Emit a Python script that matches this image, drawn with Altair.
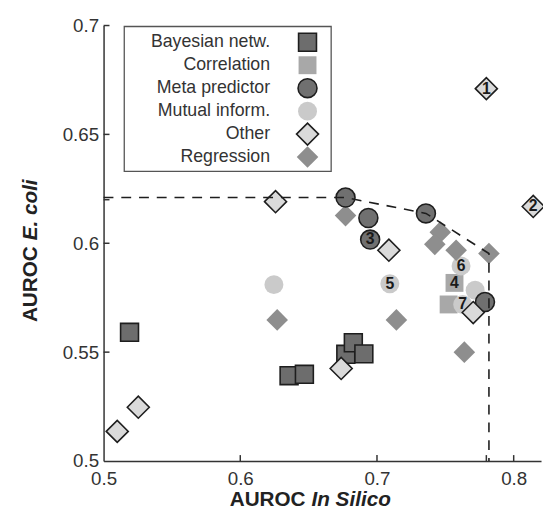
import altair as alt
import pandas as pd

methods = ["Bayesian netw.", "Correlation", "Meta predictor", "Mutual inform.", "Other", "Regression"]

bayes_x = [0.519, 0.6357, 0.6469, 0.6772, 0.6827, 0.6904]
bayes_y = [0.5591, 0.5392, 0.5398, 0.5490, 0.5543, 0.5492]
bayes_lab = ["", "", "", "", "", ""]

corr_x = [0.7524, 0.7567]
corr_y = [0.5719, 0.5818]
corr_lab = ["", "4"]

meta_x = [0.677, 0.6937, 0.695, 0.7358, 0.779]
meta_y = [0.621, 0.6116, 0.6017, 0.6137, 0.573]
meta_lab = ["", "", "3", "", ""]

mutual_x = [0.6246, 0.7094, 0.7615, 0.7718, 0.7627]
mutual_y = [0.5810, 0.5814, 0.5896, 0.5784, 0.5719]
mutual_lab = ["", "5", "6", "", "7"]

other_x = [0.510, 0.5254, 0.6258, 0.6738, 0.7087, 0.7704, 0.780, 0.8143]
other_y = [0.5136, 0.5247, 0.6191, 0.5425, 0.5968, 0.5682, 0.671, 0.6169]
other_lab = ["", "", "", "", "", "", "1", "2"]

regr_x = [0.627, 0.677, 0.7142, 0.7463, 0.7423, 0.7579, 0.7819, 0.7639]
regr_y = [0.5648, 0.6127, 0.5648, 0.6051, 0.5995, 0.5968, 0.5953, 0.5500]
regr_lab = ["", "", "", "", "", "", "", ""]

front_x = [0.5, 0.677, 0.7358, 0.7819, 0.7819]
front_y = [0.621, 0.621, 0.6137, 0.5953, 0.5]

x_label_values = [0.5, 0.6, 0.7, 0.8]
y_label_values = [0.5, 0.55, 0.6, 0.65, 0.7]
x_tick_values = [0.6, 0.7, 0.78, 0.8]
y_tick_values = [0.55, 0.6, 0.62, 0.65, 0.7]

FONT = "Liberation Sans"
W, H = 444, 442


def frame(name, xs, ys, labs):
    return pd.DataFrame({"method": name, "x": xs, "y": ys, "label": labs})


# drawing order (later on top)
pts = pd.concat([
    frame("Correlation", corr_x, corr_y, corr_lab),
    frame("Mutual inform.", mutual_x, mutual_y, mutual_lab),
    frame("Regression", regr_x, regr_y, regr_lab),
    frame("Bayesian netw.", bayes_x, bayes_y, bayes_lab),
    frame("Meta predictor", meta_x, meta_y, meta_lab),
    frame("Other", other_x, other_y, other_lab),
], ignore_index=True)

front = pd.DataFrame({"x": front_x, "y": front_y, "o": list(range(len(front_x)))})

xscale = alt.Scale(domain=[0.5, 0.82], nice=False, zero=False)
yscale = alt.Scale(domain=[0.5, 0.7], nice=False, zero=False)

shape_scale = alt.Scale(domain=methods, range=["square", "square", "circle", "circle", "diamond", "diamond"])
fill_scale = alt.Scale(domain=methods, range=["#6d6d6d", "#a8a8a8", "#707070", "#cacaca", "#dadada", "#8e8e8e"])
size_scale = alt.Scale(type="ordinal", domain=methods, range=[330, 330, 370, 370, 500, 480])
sw_scale = alt.Scale(type="ordinal", domain=methods, range=[1.6, 0, 1.6, 0, 1.6, 0])

x_axis = alt.Axis(values=x_label_values, format="~g", title=None, grid=False, ticks=False, tickSize=0,
                  labelFont=FONT, labelFontSize=19, labelColor="#333", labelPadding=9,
                  labelFlush=False, labelOverlap=False, domainColor="#333", domainWidth=1.5)
y_axis = alt.Axis(values=y_label_values, format="~g", title=None, grid=False, ticks=False, tickSize=0,
                  labelFont=FONT, labelFontSize=19, labelColor="#333", labelPadding=5,
                  labelFlush=False, labelOverlap=False, domainColor="#333", domainWidth=1.5)

base_points = alt.Chart(pts).mark_point(filled=True, stroke="#1e1e1e", opacity=1, fillOpacity=1, strokeOpacity=1).encode(
    x=alt.X("x:Q", scale=xscale, axis=x_axis),
    y=alt.Y("y:Q", scale=yscale, axis=y_axis),
    shape=alt.Shape("method:N", scale=shape_scale, legend=None),
    fill=alt.Fill("method:N", scale=fill_scale, legend=None),
    size=alt.Size("method:N", scale=size_scale, legend=None),
    strokeWidth=alt.StrokeWidth("method:N", scale=sw_scale, legend=None),
)

xt = alt.Chart(pd.DataFrame({"t": x_tick_values})).mark_rule(color="#333", strokeWidth=1.5).encode(
    x=alt.X("t:Q", scale=xscale), y=alt.value(H), y2=alt.value(H - 6))
yt = alt.Chart(pd.DataFrame({"t": y_tick_values})).mark_rule(color="#333", strokeWidth=1.5).encode(
    y=alt.Y("t:Q", scale=yscale), x=alt.value(0), x2=alt.value(6))

line = alt.Chart(front).mark_line(color="#1e1e1e", strokeWidth=1.6, strokeDash=[10, 8]).encode(
    x=alt.X("x:Q", scale=xscale), y=alt.Y("y:Q", scale=yscale), order="o:Q")

nums = alt.Chart(pts).transform_filter("datum.label != ''").mark_text(
    font=FONT, fontSize=16, fontWeight="bold", color="#1a1a1a", baseline="middle", align="center").encode(
    x=alt.X("x:Q", scale=xscale), y=alt.Y("y:Q", scale=yscale), text="label:N")

# legend
leg_df = pd.DataFrame({"method": methods})
leg_box = alt.Chart(pd.DataFrame({"a": [0]})).mark_rect(fill="white", stroke="#555", strokeWidth=1.3).encode(
    x=alt.value(21), x2=alt.value(231), y=alt.value(1), y2=alt.value(148))
leg_base = alt.Chart(leg_df).transform_window(idx="row_number()").transform_calculate(
    py="17 + 23.3 * (datum.idx - 1)")
leg_sym = leg_base.mark_point(filled=True, stroke="#1e1e1e", opacity=1, fillOpacity=1).encode(
    x=alt.value(207), y=alt.Y("py:Q", scale=None),
    shape=alt.Shape("method:N", scale=shape_scale, legend=None),
    fill=alt.Fill("method:N", scale=fill_scale, legend=None),
    size=alt.Size("method:N", scale=size_scale, legend=None),
    strokeWidth=alt.StrokeWidth("method:N", scale=sw_scale, legend=None),
)
leg_txt = leg_base.mark_text(font=FONT, fontSize=18, color="#333", align="right", baseline="middle").encode(
    x=alt.value(169), y=alt.Y("py:Q", scale=None), text="method:N")


# axis titles (mixed styles)
def title_part(txt, x, y, align, style, angle=0):
    return alt.Chart(pd.DataFrame({"t": [txt]})).mark_text(
        font=FONT, fontSize=21, fontWeight="bold", fontStyle=style, color="#222",
        align=align, baseline="middle", angle=angle).encode(
        x=alt.value(x), y=alt.value(y), text="t:N")


xt1 = title_part("AUROC", 205, 482, "right", "normal")
xt2 = title_part("In Silico", 211, 482, "left", "italic")
yt1 = title_part("AUROC", -74, 224, "right", "normal", 270)
yt2 = title_part("E. coli", -74, 218, "left", "italic", 270)

chart = alt.layer(
    xt, yt, base_points, line, nums, leg_box, leg_sym, leg_txt, xt1, xt2, yt1, yt2
).properties(
    width=W, height=H,
    autosize=alt.AutoSizeParams(type="none"),
    padding={"left": 97, "top": 14, "right": 2, "bottom": 50},
).configure_view(stroke=None)

chart.save("out.html", embed_options={"renderer": "svg", "actions": False})
